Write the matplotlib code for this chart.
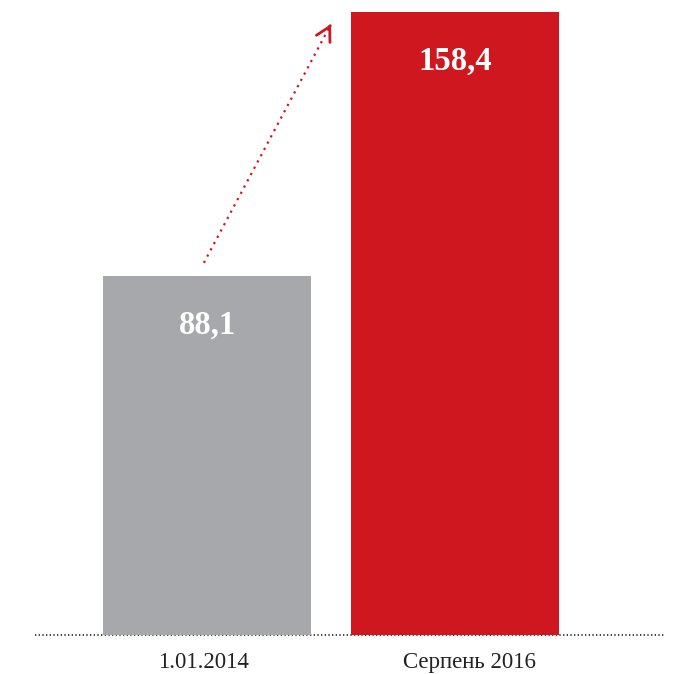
import matplotlib

matplotlib.use("Agg")
import matplotlib.pyplot as plt

categories = ["1.01.2014", "Серпень 2016"]
values = [88.1, 158.4]
value_labels = ["88,1", "158,4"]
colors = ["#a7a8ab", "#cf1720"]

# axis floor sits a bit below zero in the original layout
floor = -7.5

fig = plt.figure(figsize=(6.75, 6.74), dpi=100)
ax = fig.add_axes([35 / 675, 1 - 635 / 674, 630 / 675, 623 / 674])

x = list(range(len(categories)))
ax.bar(x, [v - floor for v in values], bottom=floor, width=0.84, color=colors, zorder=2)
ax.set_xlim(-0.694, 1.847)
ax.set_ylim(floor, max(values))

for xi, v, lab in zip(x, values, value_labels):
    ax.text(xi, v - 13, lab, ha="center", va="center", color="white",
            fontsize=23.5, fontweight="bold", family="Liberation Serif")

# category labels sit slightly off the bar centres in the original
label_shift = [-0.016, 0.06]
for xi, dx, lab in zip(x, label_shift, categories):
    ax.text(xi + dx, floor - 7.3, lab, ha="center", va="center", color="#222222",
            fontsize=16.5, family="Liberation Serif", clip_on=False)

# dotted growth arrow
start = (-0.013, 91.6)
end = (0.5, 155.2)
ax.plot([start[0], end[0] - 0.004], [start[1], end[1] - 0.5], linestyle=(0, (1, 2.2)),
        color="#cf1720", linewidth=1.6, clip_on=False, zorder=3)
ax.annotate("", xy=end, xytext=(end[0] - 0.004, end[1] - 0.5),
            arrowprops=dict(arrowstyle="->,head_length=1.0,head_width=0.55",
                            color="#cf1720", linewidth=2.0),
            annotation_clip=False, zorder=3)

# dotted baseline
ax.plot([-0.694, 1.847], [floor, floor], linestyle=(0, (0.8, 1.4)), color="#222222",
        linewidth=1.2, clip_on=False, zorder=1)

for side in ["top", "right", "left", "bottom"]:
    ax.spines[side].set_visible(False)
ax.set_xticks([])
ax.set_yticks([])

fig.savefig("out.png", dpi=100)
